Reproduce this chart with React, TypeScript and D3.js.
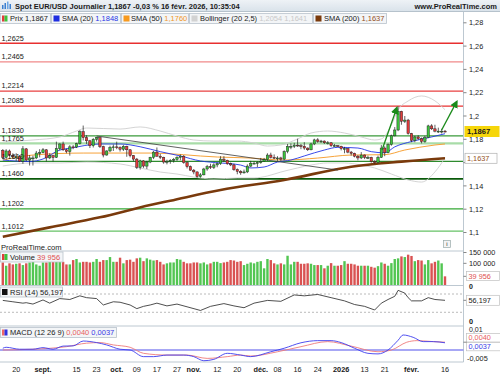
import React from 'react';
import * as d3 from 'd3';

// EUR/USD daily, 14 Aug 2025 -> 16 Feb 2026 (one bar per weekday)
const firstDay = new Date(2025, 7, 14);

const opens = [
  1.1705, 1.1646, 1.17, 1.1662, 1.165, 1.165, 1.161, 1.1718, 1.1622, 1.164, 1.164, 1.1682,
  1.1685, 1.171, 1.164, 1.166, 1.1645, 1.172, 1.176, 1.171, 1.1695, 1.1735,
  1.1733, 1.1762, 1.1865, 1.1815, 1.1787, 1.1745, 1.18, 1.1815, 1.1737, 1.1665,
  1.17, 1.173, 1.1735, 1.173, 1.1715,
  1.174, 1.171, 1.166, 1.163, 1.156,
  1.1615, 1.157, 1.1605, 1.1645, 1.169,
  1.1655, 1.1645, 1.1605, 1.161, 1.162,
  1.1627, 1.1645, 1.1655, 1.16, 1.1565,
  1.1535, 1.152, 1.148, 1.1495, 1.1545,
  1.1565, 1.156, 1.158, 1.159, 1.163,
  1.162, 1.159, 1.158, 1.154, 1.1525,
  1.1512, 1.152, 1.157, 1.1595, 1.1595,
  1.16, 1.161, 1.1625, 1.1665, 1.1645,
  1.164, 1.164, 1.163, 1.1695, 1.174,
  1.174, 1.175, 1.1745, 1.174, 1.1725,
  1.171, 1.176, 1.1795, 1.178, 1.1785,
  1.177, 1.177, 1.1745, 1.1745, 1.174,
  1.172, 1.172, 1.169, 1.168, 1.1655,
  1.164, 1.1665, 1.1645, 1.1645, 1.161,
  1.16, 1.1645, 1.1725, 1.1685, 1.1755,
  1.183, 1.188, 1.204, 1.1955, 1.1965,
  1.185, 1.179, 1.182, 1.1805, 1.178,
  1.1815, 1.1915, 1.189, 1.187, 1.187,
  1.187,
];
const highs = [
  1.1716, 1.1715, 1.1712, 1.168, 1.168, 1.1665, 1.1742, 1.1725, 1.1665, 1.166, 1.17, 1.1715,
  1.1725, 1.1715, 1.168, 1.1665, 1.178, 1.1765, 1.178, 1.172, 1.175, 1.175,
  1.177, 1.1878, 1.1918, 1.1835, 1.1795, 1.181, 1.182, 1.1818, 1.1745, 1.1705,
  1.1745, 1.1755, 1.178, 1.174, 1.175,
  1.1745, 1.1715, 1.1665, 1.164, 1.1625,
  1.162, 1.1615, 1.165, 1.17, 1.173,
  1.1675, 1.165, 1.1625, 1.163, 1.164,
  1.1655, 1.167, 1.1665, 1.161, 1.1575,
  1.1545, 1.1525, 1.151, 1.1555, 1.158,
  1.159, 1.1595, 1.16, 1.1655, 1.1655,
  1.1625, 1.16, 1.159, 1.155, 1.1535,
  1.154, 1.1585, 1.1615, 1.161, 1.161,
  1.164, 1.164, 1.168, 1.1685, 1.167,
  1.1655, 1.165, 1.1705, 1.176, 1.1765,
  1.177, 1.1805, 1.176, 1.1775, 1.173,
  1.177, 1.1805, 1.181, 1.1795, 1.179,
  1.1785, 1.1775, 1.176, 1.175, 1.1745,
  1.1735, 1.1725, 1.17, 1.1685, 1.1665,
  1.169, 1.167, 1.166, 1.165, 1.162,
  1.166, 1.175, 1.174, 1.1765, 1.184,
  1.1905, 1.2082, 1.2045, 1.2, 1.1975,
  1.1855, 1.183, 1.1835, 1.1815, 1.183,
  1.1925, 1.193, 1.1925, 1.19, 1.189,
  1.188,
];
const lows = [
  1.163, 1.164, 1.1655, 1.163, 1.1615, 1.1605, 1.159, 1.1612, 1.1575, 1.1575, 1.163, 1.1645,
  1.168, 1.161, 1.163, 1.161, 1.164, 1.1705, 1.17, 1.168, 1.166, 1.1715,
  1.1725, 1.1755, 1.179, 1.176, 1.1725, 1.173, 1.178, 1.1725, 1.1645, 1.166,
  1.169, 1.17, 1.1715, 1.1695, 1.17,
  1.165, 1.1645, 1.161, 1.1545, 1.154,
  1.1555, 1.1545, 1.1595, 1.163, 1.165,
  1.163, 1.159, 1.1585, 1.159, 1.16,
  1.1615, 1.162, 1.159, 1.155, 1.153,
  1.15, 1.147, 1.147, 1.149, 1.153,
  1.1545, 1.1545, 1.156, 1.158, 1.1605,
  1.158, 1.157, 1.153, 1.15, 1.1495,
  1.1505, 1.151, 1.156, 1.1585, 1.156,
  1.159, 1.1605, 1.1615, 1.1635, 1.163,
  1.1615, 1.1615, 1.162, 1.168, 1.1715,
  1.1725, 1.1735, 1.1715, 1.171, 1.17,
  1.1705, 1.175, 1.177, 1.177, 1.176,
  1.1755, 1.1735, 1.1735, 1.1735, 1.1705,
  1.168, 1.168, 1.166, 1.1645, 1.162,
  1.163, 1.163, 1.163, 1.16, 1.159,
  1.1595, 1.164, 1.1655, 1.168, 1.1745,
  1.1825, 1.187, 1.1925, 1.194, 1.184,
  1.1775, 1.1775, 1.1795, 1.1765, 1.177,
  1.181, 1.188, 1.186, 1.1855, 1.185,
  1.186,
];
const closes = [
  1.1646, 1.17, 1.1662, 1.165, 1.165, 1.161, 1.1718, 1.1622, 1.164, 1.164, 1.1682, 1.1685,
  1.171, 1.164, 1.166, 1.1645, 1.172, 1.176, 1.171, 1.1695, 1.1735, 1.1733,
  1.1762, 1.1865, 1.1815, 1.1787, 1.1745, 1.18, 1.1815, 1.1737, 1.1665, 1.17,
  1.173, 1.1735, 1.173, 1.1715, 1.174,
  1.171, 1.166, 1.163, 1.156, 1.1615,
  1.157, 1.1605, 1.1645, 1.169, 1.1655,
  1.1645, 1.1605, 1.161, 1.162, 1.1627,
  1.1645, 1.1655, 1.16, 1.1565, 1.1535,
  1.152, 1.148, 1.1495, 1.1545, 1.1565,
  1.156, 1.158, 1.159, 1.163, 1.162,
  1.159, 1.158, 1.154, 1.1525, 1.1512,
  1.152, 1.157, 1.1595, 1.1595, 1.16,
  1.161, 1.1625, 1.1665, 1.1645, 1.164,
  1.164, 1.163, 1.1695, 1.174, 1.174,
  1.175, 1.1745, 1.174, 1.1725, 1.171,
  1.176, 1.1795, 1.178, 1.1785, 1.177,
  1.177, 1.1745, 1.1745, 1.174, 1.172,
  1.172, 1.169, 1.168, 1.1655, 1.164,
  1.1665, 1.1645, 1.1645, 1.161, 1.16,
  1.1645, 1.1725, 1.1685, 1.1755, 1.183,
  1.188, 1.204, 1.1955, 1.1965, 1.185,
  1.179, 1.182, 1.1805, 1.178, 1.1815,
  1.1915, 1.189, 1.187, 1.187, 1.187,
  1.1867,
];
// volume in thousands
const volumes = [
  104, 89, 100, 95, 98, 100, 92, 100, 104, 107,
  95, 89, 104, 104, 107, 110, 107, 110, 107, 95,
  95, 115, 120, 104, 107, 107, 104, 107, 120, 107,
  115, 115, 129, 107, 107, 126, 100, 115, 117, 107,
  123, 126, 110, 123, 117, 113, 115, 107, 95, 100,
  104, 104, 120, 117, 107, 100, 100, 104, 104, 100,
  104, 95, 100, 107, 107, 101, 104, 107, 115, 113,
  107, 110, 92, 98, 104, 100,
  107, 110, 77, 120, 115, 100, 95, 100, 95, 135,
  95, 107, 107, 98, 98, 100, 98, 92, 92, 92,
  77, 89, 101, 89, 89, 92, 110, 98, 98, 95,
  89, 89, 89, 89, 84, 80, 87, 104, 98, 89,
  101, 120, 123, 132, 129, 140, 134, 110, 115, 113,
  95, 115, 100, 107, 113, 100,
  39.956,
];

// indicator readings: [bar index, value]
const sma20: [number, number][] = [
  [0, 1.1622], [8, 1.1609], [12, 1.1631], [17, 1.1708], [20, 1.1723], [29, 1.176], [35, 1.176],
  [41, 1.1736], [47, 1.1694], [53, 1.1657], [59, 1.1614], [65, 1.1597], [71, 1.1579], [74, 1.1554],
  [78, 1.1562], [82, 1.1605], [86, 1.1622], [90, 1.1657], [96, 1.1708], [100, 1.1731], [106, 1.1725],
  [110, 1.1694], [114, 1.1684], [117, 1.1735], [122, 1.1781], [128, 1.182], [132, 1.1848],
];
const sma50: [number, number][] = [
  [0, 1.1622], [9, 1.1665], [24, 1.1682], [44, 1.1682], [64, 1.1648], [74, 1.1639], [84, 1.1622],
  [94, 1.1639], [104, 1.1665], [114, 1.1668], [120, 1.1708], [129, 1.1751], [132, 1.176],
];
const sma200: [number, number][] = [
  [0, 1.0964], [14, 1.1044], [29, 1.113], [44, 1.1236], [50, 1.1273], [65, 1.1365], [84, 1.1451],
  [104, 1.1565], [119, 1.1608], [132, 1.1637],
];
const bollUp: [number, number][] = [
  [0, 1.1777], [9, 1.1794], [17, 1.182], [22, 1.1871], [25, 1.1897], [35, 1.1888], [41, 1.1906],
  [47, 1.1871], [52, 1.1828], [57, 1.1794], [63, 1.1785], [70, 1.1785], [75, 1.1768], [79, 1.1742],
  [83, 1.1751], [88, 1.1803], [92, 1.1854], [97, 1.1871], [102, 1.1854], [107, 1.182], [111, 1.1794],
  [113, 1.1803], [116, 1.1923], [118, 1.2052], [121, 1.2129], [125, 1.2172], [129, 1.213], [132, 1.2054],
];
const bollLow: [number, number][] = [
  [0, 1.1571], [9, 1.1597], [17, 1.1597], [25, 1.1605], [35, 1.1588], [41, 1.1554], [47, 1.1519],
  [52, 1.1502], [57, 1.1476], [63, 1.1459], [70, 1.1468], [75, 1.1468], [79, 1.1485], [83, 1.1519],
  [88, 1.1554], [92, 1.1579], [97, 1.1597], [102, 1.1597], [107, 1.1579], [111, 1.1554], [116, 1.1502],
  [121, 1.1451], [125, 1.1433], [129, 1.152], [132, 1.1641],
];
const rsi: [number, number][] = [
  [0, 56], [3, 53], [6, 50], [7, 51], [9, 48], [12, 57], [14, 50], [17, 60], [20, 58], [23, 66],
  [25, 62], [28, 60], [30, 46], [33, 53], [35, 52], [38, 46], [40, 38], [42, 43], [44, 46], [46, 50],
  [49, 44], [52, 48], [55, 42], [59, 34], [62, 43], [66, 49], [69, 44], [72, 40], [75, 50], [79, 56],
  [83, 54], [87, 68], [90, 66], [94, 69], [98, 62], [102, 55], [105, 47], [108, 43], [111, 35],
  [113, 50], [115, 58], [117, 65], [118, 78], [120, 72], [121, 62], [122, 55], [125, 55], [127, 62],
  [129, 58], [132, 56.197],
];
const macd: [number, number][] = [
  [0, 0.0009], [1, 0.0014], [5, 0.0004], [9, 0.0004], [12, 0.0012], [15, 0.0004], [18, 0.002],
  [21, 0.0021], [24, 0.0046], [28, 0.0038], [31, 0.0026], [35, 0.0004], [38, 0], [42, -0.0034],
  [45, -0.0034], [49, -0.0026], [54, -0.0026], [57, -0.0034], [60, -0.0055], [63, -0.0048],
  [67, -0.0017], [71, -0.0026], [74, -0.0034], [80, -0.0009], [84, 0.0009], [89, 0.0037],
  [94, 0.0048], [98, 0.0048], [101, 0.0038], [105, 0.0009], [109, -0.0017], [112, -0.002],
  [115, 0], [118, 0.005], [119.5, 0.0077], [122.5, 0.0065], [125.5, 0.0043], [128.5, 0.0043],
  [132, 0.0037],
];
const macdSignal: [number, number][] = [
  [0, 0], [9, 0.0004], [19, 0.0017], [25, 0.0035], [29, 0.0038], [33, 0.0026], [38, 0.0014],
  [42, -0.0017], [49, -0.0026], [55, -0.0026], [61, -0.0043], [67, -0.0034], [71, -0.0026],
  [74, -0.0031], [82, -0.0009], [89, 0.0017], [97, 0.0043], [104, 0.002], [112, -0.0009],
  [116, 0], [120.6, 0.004], [123.6, 0.0048], [128.5, 0.0043], [132, 0.004],
];

// drawn levels and annotations
const redLevels = [1.2625, 1.2465, 1.2214, 1.2085];
const greenLevels = [1.183, 1.1765, 1.161, 1.146, 1.1202, 1.1012];
const trendLine: [number, number][] = [[28, 1.1828], [100, 1.1536]];
const arrows: [number, number][][] = [
  [[113.2, 1.1708], [117.6, 1.2069]],
  [[131, 1.188], [135.5, 1.2123]],
];

const priceTicks = [1.1, 1.12, 1.14, 1.16, 1.18, 1.2, 1.22, 1.24, 1.26, 1.28];
const tickDates = [
  '2025-08-20', '2025-09-01', '2025-09-15', '2025-09-23', '2025-10-01', '2025-10-09', '2025-10-17',
  '2025-10-27', '2025-11-03', '2025-11-12', '2025-11-20', '2025-12-01', '2025-12-08', '2025-12-16',
  '2025-12-24', '2026-01-02', '2026-01-13', '2026-01-21', '2026-02-02', '2026-02-16',
];
const tickLabels = [
  '20', 'sept.', '15', '23', 'oct.', '09', '17', '27', 'nov.', '12', '20', 'déc.', '08', '16', '24',
  '2026', '13', '21', 'févr.', '16',
];
const boldTicks = ['sept.', 'oct.', 'nov.', 'déc.', '2026', 'févr.'];

const FONT = 'Liberation Sans, Arial, sans-serif';
const GREEN = '#3cc43c';
const RED = '#e23b3b';
const AX = 463.5;

const levelStyle: Record<string, { c: string; w: number }> = {
  '1.2625': { c: '#e83030', w: 1.6 },
  '1.2465': { c: '#f08a8a', w: 1.2 },
  '1.2214': { c: '#e84040', w: 1.2 },
  '1.2085': { c: '#e83030', w: 1.2 },
  '1.183': { c: '#3a9a3a', w: 1.2 },
  '1.1765': { c: '#a8dca8', w: 2.2 },
  '1.161': { c: '#2e8b2e', w: 1.2 },
  '1.146': { c: '#0a5a0a', w: 1.8 },
  '1.1202': { c: '#34a834', w: 1.2 },
  '1.1012': { c: '#66c266', w: 1.2 },
};

function tradingDays(start: Date, n: number) {
  const out: Date[] = [];
  const d = new Date(start);
  while (out.length < n) {
    if (d.getDay() !== 0 && d.getDay() !== 6) out.push(new Date(d));
    d.setDate(d.getDate() + 1);
  }
  return out;
}

const fmtNum = (v: number, digits: number) => v.toFixed(digits).replace('.', ',');

export default function App() {
  const days = tradingDays(firstDay, closes.length);
  const fmtDay = d3.timeFormat('%Y-%m-%d');

  const x = d3.scaleLinear().domain([0, closes.length - 1]).range([2.8, 445]);
  const yP = d3.scaleLinear().domain([1.1, 1.28]).range([232.5, 22.8]);
  const yV = d3.scaleLinear().domain([0, 150]).range([285, 252.5]);
  const yR = d3.scaleLinear().domain([0, 100]).range([326, 280.3]);
  const yM = d3.scaleLinear().domain([-0.005, 0.01]).range([359.75, 330.5]);

  const priceLine = d3.line<[number, number]>().x((d) => x(d[0])).y((d) => yP(d[1])).curve(d3.curveMonotoneX);
  const rsiLine = d3.line<[number, number]>().x((d) => x(d[0])).y((d) => yR(d[1]));
  const macdLine = d3.line<[number, number]>().x((d) => x(d[0])).y((d) => yM(d[1])).curve(d3.curveMonotoneX);

  const txt = { fontFamily: FONT, fontSize: 7.5, fill: '#1a1a1a' } as const;

  const last = closes.length - 1;
  const sma200Last = sma200[sma200.length - 1][1];

  return (
    <svg width={500} height={375} style={{ position: 'absolute', left: 0, top: 0, background: '#fff' }}>
      <defs>
        <linearGradient id="hdr" x1="0" y1="0" x2="0" y2="1">
          <stop offset="0" stopColor="#eef2f6" />
          <stop offset="1" stopColor="#d9e2ea" />
        </linearGradient>
        <marker id="ah" markerWidth="8" markerHeight="8" refX="6" refY="4" orient="auto" markerUnits="userSpaceOnUse">
          <path d="M0,0 L8,4 L0,8 z" fill="#1a8a1a" />
        </marker>
        <clipPath id="pp">
          <rect x={0} y={24} width={AX} height={227} />
        </clipPath>
      </defs>

      {/* header */}
      <rect x={0} y={0} width={500} height={11.5} fill="url(#hdr)" />
      <line x1={0} x2={500} y1={11.5} y2={11.5} stroke="#b6c2cc" />
      <g>
        <rect x={2} y={5} width={1.5} height={4} fill="#3a7fd0" />
        <rect x={4.5} y={3} width={1.5} height={6} fill="#3a7fd0" />
        <rect x={7} y={1.5} width={1.5} height={7.5} fill="#6aa6e6" />
        <rect x={9.5} y={4} width={1.5} height={5} fill="#3a7fd0" />
      </g>
      <text x={15} y={8.6} {...txt} fontWeight="bold">
        Spot EUR/USD Journalier 1,1867 -0,03 % 16 févr. 2026, 10:35:04
      </text>
      <text x={497} y={8.6} {...txt} fontWeight="bold" textAnchor="end">
        www.ProRealTime.com
      </text>

      {/* legend row */}
      {[
        [0.5, 50.5],
        [51.5, 120.5],
        [121.5, 188.5],
        [189.5, 312.5],
        [313.5, 386.5],
      ].map(([a, b], i) => (
        <rect key={i} x={a} y={13.5} width={b - a} height={10} fill="#f3f5f7" stroke="#b9c3cb" strokeWidth={0.8} />
      ))}
      <rect x={2} y={15.5} width={2.5} height={6} fill={RED} />
      <rect x={4.5} y={15.5} width={3} height={6} fill={GREEN} />
      <text x={10} y={21} {...txt}>Prix 1,1867</text>
      <rect x={53.5} y={15.5} width={6} height={6} fill="#1f2ee0" />
      <text x={62} y={21} {...txt}>SMA (20) <tspan fill="#2436e6">1,1848</tspan></text>
      <rect x={123.5} y={15.5} width={6} height={6} fill="#f79a1e" />
      <text x={131} y={21} {...txt}>SMA (50) <tspan fill="#f0982a">1,1760</tspan></text>
      <rect x={191.5} y={15.5} width={6} height={6} fill="#d2d2d2" />
      <text x={200} y={21} {...txt}>Bollinger (20 2,5) <tspan fill="#c8c8c8">1,2054 1,1641</tspan></text>
      <rect x={315.5} y={15.5} width={6} height={6} fill="#7a3a0c" />
      <text x={324} y={21} {...txt}>SMA (200) <tspan fill="#93501c">1,1637</tspan></text>

      {/* price panel */}
      <g clipPath="url(#pp)">
        {redLevels.concat(greenLevels).map((v) => {
          const s = levelStyle[String(v)];
          return <line key={v} x1={0} x2={AX} y1={yP(v)} y2={yP(v)} stroke={s.c} strokeWidth={s.w} />;
        })}
        <path d={priceLine(bollUp) || ''} fill="none" stroke="#cfcfcf" strokeWidth={0.9} />
        <path d={priceLine(bollLow) || ''} fill="none" stroke="#cfcfcf" strokeWidth={0.9} />
        <path d={priceLine(sma200) || ''} fill="none" stroke="#7a3a0c" strokeWidth={2.6} />
        <path d={priceLine(sma50) || ''} fill="none" stroke="#f7a33a" strokeWidth={1} />
        <path d={priceLine(sma20) || ''} fill="none" stroke="#2436e6" strokeWidth={0.9} />
        <line
          x1={x(trendLine[0][0])}
          y1={yP(trendLine[0][1])}
          x2={x(trendLine[1][0])}
          y2={yP(trendLine[1][1])}
          stroke="#3a3a3a"
          strokeWidth={0.8}
        />
        {closes.map((c, k) => {
          const o = opens[k];
          const up = c >= o;
          const cx = x(k);
          const t = yP(Math.max(o, c));
          const b = yP(Math.min(o, c));
          return (
            <g key={k}>
              <line x1={cx} x2={cx} y1={yP(highs[k])} y2={yP(lows[k])} stroke="#1e1e1e" strokeWidth={0.7} />
              <rect x={cx - 1.2} y={t} width={2.4} height={Math.max(0.9, b - t)} fill={up ? GREEN : RED} stroke="#1e1e1e" strokeWidth={0.45} />
            </g>
          );
        })}
        {arrows.map((a, i) => (
          <line
            key={i}
            x1={x(a[0][0])}
            y1={yP(a[0][1])}
            x2={x(a[1][0])}
            y2={yP(a[1][1])}
            stroke="#1a8a1a"
            strokeWidth={1.3}
            markerEnd="url(#ah)"
          />
        ))}
        {redLevels.concat(greenLevels).map((v) => (
          <text key={'l' + v} x={1.5} y={yP(v) - 2.6} {...txt} fontSize={7.3}>
            {v.toFixed(4).replace('.', ',')}
          </text>
        ))}
        <text x={1} y={250} {...txt} fontSize={7.6} fill="#222">ProRealTime.com</text>
      </g>
      <rect x={443.5} y={240.5} width={7} height={7} fill="#f4f4f4" stroke="#9aa" strokeWidth={0.7} />
      <text x={447} y={246.3} {...txt} fontSize={6} textAnchor="middle">i</text>

      {/* panel frames */}
      {[251, 285.5, 326, 362].map((yy) => (
        <line key={yy} x1={0} x2={AX} y1={yy} y2={yy} stroke="#b6c2cc" strokeWidth={0.9} />
      ))}
      <line x1={AX} x2={AX} y1={11.5} y2={362} stroke="#b6c2cc" strokeWidth={0.9} />

      {/* price axis (the label under the SMA 200 tag stays hidden, as in the source) */}
      {priceTicks.map((v) => (
        <g key={v}>
          <line x1={AX} x2={AX + 3} y1={yP(v)} y2={yP(v)} stroke="#555" strokeWidth={0.7} />
          {Math.abs(yP(v) - yP(sma200Last)) > 7 && (
            <text x={AX + 5.5} y={yP(v) + 2.6} {...txt} fontSize={7.3}>
              {String(+v.toFixed(2)).replace('.', ',')}
            </text>
          )}
        </g>
      ))}
      <rect x={AX + 1} y={yP(closes[last]) - 5.5} width={35} height={11} fill="#f6d60a" />
      <text x={AX + 3.5} y={yP(closes[last]) + 2.7} {...txt} fontWeight="bold" fontSize={7.6}>
        {fmtNum(closes[last], 4)}
      </text>
      <rect x={AX + 1.5} y={yP(sma200Last) - 5} width={32} height={10} fill="#fff" stroke="#b0b0b0" strokeWidth={0.7} />
      <text x={AX + 3.5} y={yP(sma200Last) + 2.6} {...txt} fill="#93501c" fontSize={7.3}>
        {fmtNum(sma200Last, 4)}
      </text>

      {/* volume */}
      {volumes.map((v, k) => (
        <rect
          key={k}
          x={x(k) - 1.2}
          y={yV(v)}
          width={2.4}
          height={yV(0) - yV(v)}
          fill={closes[k] >= opens[k] ? '#52c652' : '#d95252'}
        />
      ))}
      <rect x={0.5} y={252} width={62.5} height={10} fill="#f3f5f7" stroke="#b9c3cb" strokeWidth={0.8} />
      <rect x={2} y={254} width={2.5} height={6} fill={RED} />
      <rect x={4.5} y={254} width={3} height={6} fill={GREEN} />
      <text x={10} y={259.8} {...txt}>Volume <tspan fill="#e05050">39 956</tspan></text>
      {[150, 100].map((v) => (
        <g key={v}>
          <line x1={AX} x2={AX + 3} y1={yV(v)} y2={yV(v)} stroke="#555" strokeWidth={0.7} />
          <text x={AX + 5.5} y={yV(v) + 2.6} {...txt} fontSize={7.3}>{v} 000</text>
        </g>
      ))}
      <text x={AX + 5.5} y={289} {...txt} fontSize={7} fontWeight="bold">0</text>
      <line x1={AX} x2={AX + 3} y1={yV(volumes[last])} y2={yV(volumes[last])} stroke="#555" strokeWidth={0.7} />
      <rect x={AX + 3} y={yV(volumes[last]) - 5} width={33} height={9.2} fill="#fff" stroke="#c0c0c0" strokeWidth={0.7} />
      <text x={AX + 5} y={yV(volumes[last]) + 2.4} {...txt} fontSize={7.3} fill="#e05050">39 956</text>

      {/* RSI */}
      {[70, 30].map((v) => (
        <line key={v} x1={0} x2={AX} y1={yR(v)} y2={yR(v)} stroke="#a8a8a8" strokeWidth={0.8} strokeDasharray="2,2" />
      ))}
      <path d={rsiLine(rsi) || ''} fill="none" stroke="#222" strokeWidth={0.8} />
      <rect x={0.5} y={287} width={62} height={10} fill="#f3f5f7" stroke="#b9c3cb" strokeWidth={0.8} />
      <rect x={2} y={289} width={5.5} height={6} fill="#111" />
      <text x={10} y={294.8} {...txt}>RSI (14) 56,197</text>
      <line x1={AX} x2={AX + 3} y1={yR(56.197)} y2={yR(56.197)} stroke="#555" strokeWidth={0.7} />
      <rect x={AX + 3} y={yR(56.197) - 5} width={33} height={10} fill="#fff" stroke="#c0c0c0" strokeWidth={0.7} />
      <text x={AX + 5} y={yR(56.197) + 2.6} {...txt} fontSize={7.3}>56,197</text>
      <text x={AX + 5.5} y={324} {...txt} fontSize={7.3} fontWeight="bold">0</text>

      {/* MACD */}
      <line x1={0} x2={AX} y1={yM(0)} y2={yM(0)} stroke="#8a8af2" strokeWidth={1.4} />
      <path d={macdLine(macdSignal) || ''} fill="none" stroke="#ee7b7b" strokeWidth={0.9} />
      <path d={macdLine(macd) || ''} fill="none" stroke="#3d3dee" strokeWidth={0.9} />
      <rect x={0.5} y={327.5} width={116} height={10} fill="#f3f5f7" stroke="#b9c3cb" strokeWidth={0.8} />
      <rect x={2} y={329.5} width={2.5} height={6} fill="#ee6666" />
      <rect x={4.5} y={329.5} width={3} height={6} fill="#3030e0" />
      <text x={10} y={335.3} {...txt}>
        MACD (12 26 9) <tspan fill="#e86060">0,0040</tspan> <tspan fill="#3a3ae6">0,0037</tspan>
      </text>
      <text x={AX + 5.5} y={yM(0.01) + 1.6} {...txt} fontSize={7}>0,01</text>
      <text x={AX + 3.5} y={360.5} {...txt} fontSize={7.3}>-0,005</text>
      <rect x={AX + 3} y={333.6} width={36} height={8.4} fill="#fff" stroke="#c0c0c0" strokeWidth={0.7} />
      <text x={AX + 5} y={340.4} {...txt} fontSize={7.3} fill="#e86060">0,0040</text>
      <rect x={AX + 3} y={342.4} width={36} height={8.4} fill="#fff" stroke="#c0c0c0" strokeWidth={0.7} />
      <text x={AX + 5} y={349.2} {...txt} fontSize={7.3} fill="#3a3ae6">0,0037</text>
      <line x1={AX} x2={AX + 3} y1={yM(0.004)} y2={yM(0.004)} stroke="#555" strokeWidth={0.7} />

      {/* date axis */}
      {tickDates.map((s, i) => {
        const k = days.findIndex((d) => fmtDay(d) === s);
        const lab = tickLabels[i];
        return (
          <text
            key={s}
            x={x(k)}
            y={371.8}
            {...txt}
            fontSize={7.3}
            textAnchor="middle"
            fontWeight={boldTicks.includes(lab) ? 'bold' : 'normal'}
          >
            {lab}
          </text>
        );
      })}
    </svg>
  );
}
